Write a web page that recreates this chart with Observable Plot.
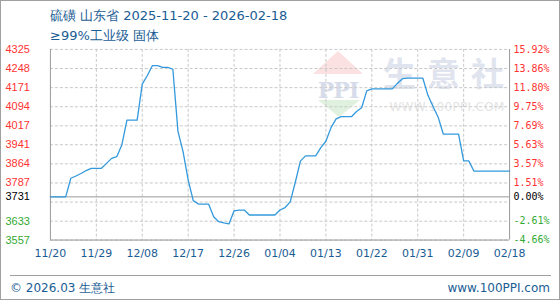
<!DOCTYPE html>
<html>
<head>
<meta charset="utf-8">
<script src="https://cdn.jsdelivr.net/npm/d3@7"></script>
<script src="https://cdn.jsdelivr.net/npm/@observablehq/plot@0.6"></script>
<style>
  html, body { margin: 0; padding: 0; background: #fff; }
  #wrap { position: relative; width: 560px; height: 300px; box-sizing: border-box; border: 1px solid #a0a0a0; overflow: hidden; font-family: "DejaVu Sans", sans-serif; }
  #wm { position: absolute; left: 0; top: 0; }
  #chart { position: absolute; left: -1px; top: -1px; }
  .t { position: absolute; white-space: nowrap; color: #1a5c94; }
</style>
</head>
<body>
<div id="wrap">
  <svg id="wm" width="560" height="300">
    <polygon points="337,50 312,73 362,73" fill="#fbe1e1"/>
    <text x="337" y="97" text-anchor="middle" font-family="DejaVu Serif" font-weight="bold" font-size="22" fill="#d6dcea" letter-spacing="-1">PPI</text>
    <polygon points="317,99 359,99 338,116" fill="#e0f1e0"/>
    <text x="448" y="85" text-anchor="middle" font-family="Noto Sans CJK SC" font-weight="bold" font-size="33" fill="#dfe4ee" letter-spacing="11">生意社</text>
    <text x="446" y="110" text-anchor="middle" font-family="DejaVu Sans" font-size="12" fill="#e4e4e4" letter-spacing="0.3">WWW.100PPI.COM</text>
  </svg>
  <div id="chart"></div>
  <div class="t" style="left:49px;top:7px;font-size:13px;line-height:16px;">硫磺 山东省 2025-11-20 - 2026-02-18</div>
  <div class="t" style="left:49px;top:27px;font-size:13px;line-height:16px;">≥99%工业级 固体</div>
  <div style="position:absolute;left:9px;top:274px;width:541px;height:1px;background:#a0a0a0;"></div>
  <div class="t" style="left:9px;top:279px;font-size:12px;line-height:16px;">© 2026.03 生意社</div>
  <div class="t" style="right:9px;top:279px;font-size:12px;line-height:16px;">www.100PPI.com</div>
</div>
<script>
const startDate = "2025-11-20";
const prices = [
  3731, 3731, 3731, 3731, 3806, 3815, 3825, 3837, 3846, 3846,
  3846, 3866, 3886, 3893, 3940, 4040, 4040, 4040, 4185, 4220,
  4260, 4260, 4253, 4253, 4245, 3995, 3913, 3799, 3716, 3702,
  3702, 3702, 3651, 3631, 3626, 3622, 3675, 3678, 3678, 3658,
  3658, 3658, 3658, 3658, 3658, 3678, 3688, 3711, 3790, 3875,
  3896, 3896, 3896, 3929, 3955, 4010, 4045, 4054, 4054, 4054,
  4075, 4090, 4158, 4166, 4166, 4166, 4166, 4166, 4188, 4207,
  4209, 4209, 4209, 4209, 4140, 4095, 4052, 3984, 3984, 3984,
  3984, 3876, 3876, 3835, 3835, 3835, 3835, 3835, 3835, 3835,
  3835
];
const xTicks = ["2025-11-20","2025-11-29","2025-12-08","2025-12-17","2025-12-26","2026-01-04","2026-01-13","2026-01-22","2026-01-31","2026-02-09","2026-02-18"];
const baseValue = 3731;
const gridValues = [4325, 4248, 4171, 4094, 4017, 3941, 3864, 3787, 3710, 3633, 3557];
const yLabelValues = [4325, 4248, 4171, 4094, 4017, 3941, 3864, 3787, 3731, 3633, 3557];
const pctLabels = ["15.92%", "13.86%", "11.80%", "9.75%", "7.69%", "5.63%", "3.57%", "1.51%", "0.00%", "-2.61%", "-4.66%"];

const t0 = new Date(startDate + "T00:00:00Z");
const data = prices.map((p, i) => ({date: d3.utcDay.offset(t0, i), price: p}));
const tickDates = xTicks.map(s => new Date(s + "T00:00:00Z"));
const fmt = d3.utcFormat("%m/%d");
const labels = yLabelValues.map((v, i) => ({value: v, label: String(v), pct: pctLabels[i],
  color: v > baseValue ? "#ff3333" : v < baseValue ? "#33aa33" : "#000000"}));

const chart = Plot.plot({
  width: 560, height: 300,
  marginTop: 49, marginBottom: 60, marginLeft: 50, marginRight: 50,
  x: {type: "utc", domain: [tickDates[0], tickDates[tickDates.length - 1]], axis: null},
  y: {domain: [3557, 4325], axis: null},
  style: {background: "transparent", fontFamily: "DejaVu Sans", fontSize: "11px"},
  marks: [
    Plot.ruleY(gridValues, {stroke: "#c8c8c8", strokeDasharray: "3,2", strokeOpacity: 1}),
    Plot.ruleX(tickDates.slice(1, -1), {stroke: "#c8c8c8", strokeDasharray: "3,2", strokeOpacity: 1}),
    Plot.ruleY([baseValue], {stroke: "#999999", strokeOpacity: 1}),
    Plot.ruleY([3557], {stroke: "#999999", strokeOpacity: 1}),
    Plot.ruleX([tickDates[0], tickDates[tickDates.length - 1]], {stroke: "#999999", strokeOpacity: 1}),
    Plot.line(data, {x: "date", y: "price", stroke: "#3399dd", strokeWidth: 1.3}),
    Plot.text(labels, {y: "value", text: "label", frameAnchor: "left", dx: -45, textAnchor: "start",
      fill: "color", fontFamily: "Liberation Sans", fontSize: 11}),
    Plot.text(labels, {y: "value", text: "pct", frameAnchor: "right", dx: 4, textAnchor: "start",
      fill: "color", fontFamily: "DejaVu Sans Mono", fontSize: 10}),
    Plot.text(tickDates, {x: d => d, text: d => fmt(d), frameAnchor: "bottom", dy: 17,
      fill: "#1a5c94", fontFamily: "DejaVu Sans", fontSize: 11})
  ]
});
document.getElementById("chart").appendChild(chart);
</script>
</body>
</html>
